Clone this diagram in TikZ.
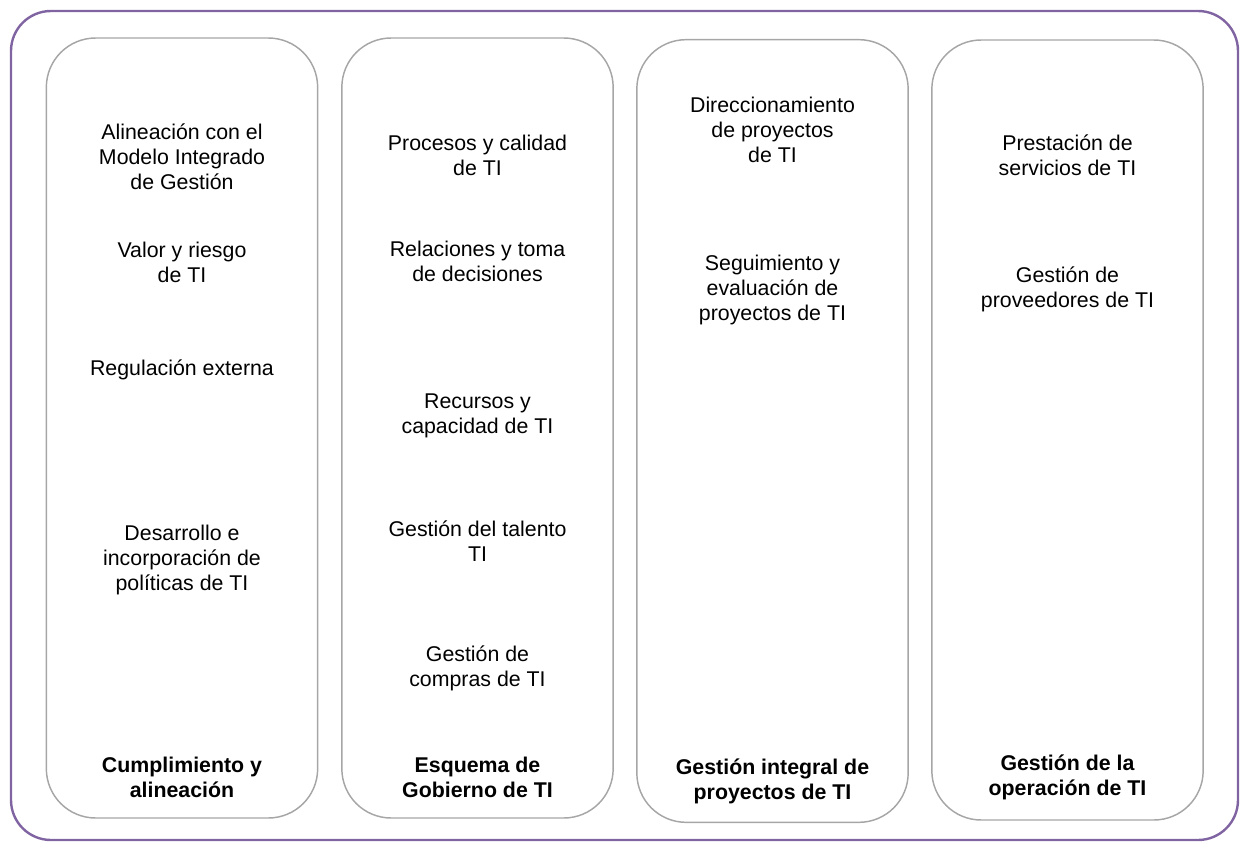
\documentclass[tikz,border=0pt]{standalone}
\usepackage{fontspec}
\setmainfont{Liberation Sans}
\definecolor{framepurple}{RGB}{128,100,162}
\definecolor{boxgray}{RGB}{166,166,166}
\tikzset{
  colbox/.style={draw=boxgray, line width=1.1pt, rounded corners=37pt,
                 minimum width=203.5pt, minimum height=585pt},
  item/.style={align=center, font=\fontsize{16}{18.75}\selectfont},
  title/.style={item, font=\fontsize{16}{18.75}\selectfont\bfseries}
}
\begin{document}
\begin{tikzpicture}[x=0.75pt,y=-0.75pt]
  \useasboundingbox (0,0) rectangle (1247,842);
  % outer frame
  \draw[framepurple, line width=1.8pt, rounded corners=30pt] (11,11) rectangle (1238,840);
  % columns
  \node[colbox] (cumpl) at (182,428) {};
  \node[colbox] (esq)   at (477.5,428) {};
  \node[colbox, minimum height=587pt] (proy) at (772.5,431) {};
  \node[colbox] (oper)  at (1067.5,430) {};
  % column 1
  \node[item] (alin)  at (182,157) {Alineación con el\\Modelo Integrado\\de Gestión};
  \node[item] (valor) at (182,262) {Valor y riesgo\\de TI};
  \node[item] (regul) at (182,370) {Regulación externa};
  \node[item] (desa)  at (182,560) {Desarrollo e\\incorporación de\\políticas de TI};
  \node[title] (t1)   at (182,777) {Cumplimiento y\\alineación};
  % column 2
  \node[item] (proc)  at (477.5,155) {Procesos y calidad\\de TI};
  \node[item] (rel)   at (477.5,261) {Relaciones y toma\\de decisiones};
  \node[item] (recur) at (477.5,416) {Recursos y\\capacidad de TI};
  \node[item] (tal)   at (477.5,541) {Gestión del talento\\TI};
  \node[item] (comp)  at (477.5,668) {Gestión de\\compras de TI};
  \node[title] (t2)   at (477.5,777) {Esquema de\\Gobierno de TI};
  % column 3
  \node[item] (dir)   at (772.5,130) {Direccionamiento\\de proyectos\\de TI};
  \node[item] (seg)   at (772.5,290) {Seguimiento y\\evaluación de\\proyectos de TI};
  \node[title] (t3)   at (772.5,781) {Gestión integral de\\proyectos de TI};
  % column 4
  \node[item] (prest) at (1067.5,155) {Prestación de\\servicios de TI};
  \node[item] (prov)  at (1067.5,289) {Gestión de\\proveedores de TI};
  \node[title] (t4)   at (1067.5,777) {Gestión de la\\operación de TI};
\end{tikzpicture}
\end{document}
